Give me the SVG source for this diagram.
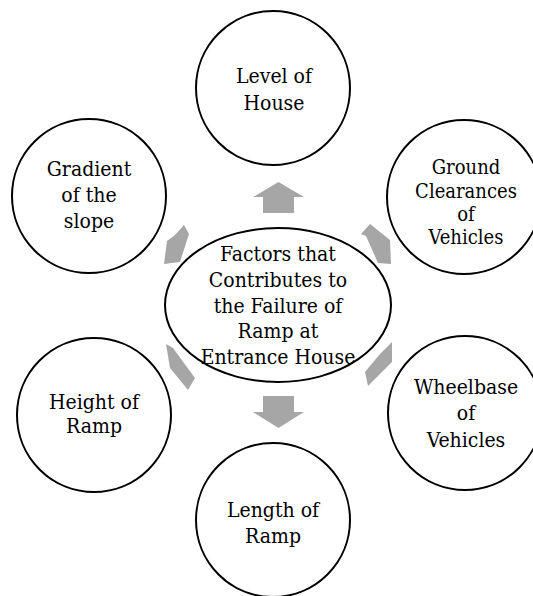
<svg xmlns="http://www.w3.org/2000/svg" width="533" height="596" viewBox="0 0 533 596">
<style>
.node{fill:#ffffff;stroke:#000000;stroke-width:2}
.arr{fill:#a6a6a6;stroke:none}
.t{font-family:'DejaVu Serif Condensed','DejaVu Serif',serif;font-stretch:condensed;font-size:21px;fill:#000000;text-anchor:middle}
.s{font-size:20px}
</style>
<rect width="533" height="596" fill="#ffffff"/>
<g id="connectors">
<polygon class="arr" points="278.5,182 304,197 294,197 294,213 263,213 263,197 253,197"/>
<polygon class="arr" points="278.5,428 304,412 294,412 294,396 263,396 263,412 253,412"/>
<polygon class="arr" points="184,225 189,234 180,262 164,264 167,241 175,235"/>
<polygon class="arr" points="370,224 390,240 391,264 378,263 366,236 361,234"/>
<polygon class="arr" points="166,344 173,348 195,378 188,390 170,368"/>
<polygon class="arr" points="392,342 392,362 368,386 365,372 380,354 386,348"/>
</g>
<g id="center">
<ellipse class="node" cx="278" cy="305" rx="113" ry="77"/>
<text class="t" x="278" y="261">Factors that</text>
<text class="t" x="278" y="287">Contributes to</text>
<text class="t" x="278" y="313">the Failure of</text>
<text class="t" x="278" y="338">Ramp at</text>
<text class="t" x="278" y="364">Entrance House</text>
</g>
<g id="level">
<circle class="node" cx="273" cy="88" r="77"/>
<text class="t" x="274" y="83">Level of</text>
<text class="t" x="274" y="110">House</text>
</g>
<g id="ground">
<circle class="node" cx="464" cy="197" r="77"/>
<text class="t s" x="466" y="174">Ground</text>
<text class="t s" x="466" y="198">Clearances</text>
<text class="t s" x="466" y="221">of</text>
<text class="t s" x="466" y="244">Vehicles</text>
</g>
<g id="wheelbase">
<circle class="node" cx="465" cy="413" r="77"/>
<text class="t" x="466" y="394">Wheelbase</text>
<text class="t" x="466" y="420">of</text>
<text class="t" x="466" y="447">Vehicles</text>
</g>
<g id="length">
<circle class="node" cx="273" cy="520" r="77"/>
<text class="t" x="273" y="517">Length of</text>
<text class="t" x="273" y="543">Ramp</text>
</g>
<g id="height">
<circle class="node" cx="94" cy="415" r="77"/>
<text class="t" x="94" y="409">Height of</text>
<text class="t" x="94" y="433">Ramp</text>
</g>
<g id="gradient">
<circle class="node" cx="89" cy="196" r="77"/>
<text class="t" x="89" y="176">Gradient</text>
<text class="t" x="89" y="202">of the</text>
<text class="t" x="89" y="228">slope</text>
</g>
</svg>
